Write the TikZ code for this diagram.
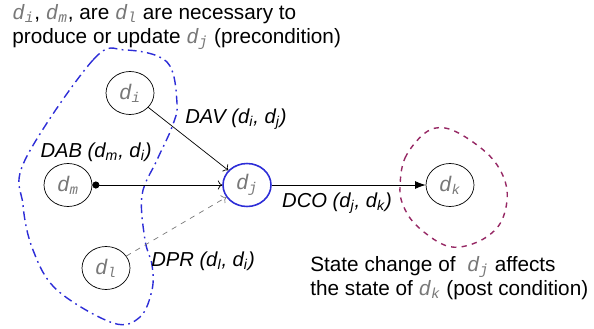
\documentclass[tikz,border=0pt]{standalone}
\usepackage{fontspec}
\setmainfont{Liberation Sans}
\newfontfamily\monofont{Liberation Mono}
\usetikzlibrary{arrows.meta,shapes.geometric}
\definecolor{dgray}{RGB}{120,120,120}
\definecolor{pblue}{RGB}{45,45,215}
\definecolor{plum}{RGB}{150,40,100}
\tikzstyle{vx}=[shape=ellipse, draw, minimum width=0.96cm, minimum height=0.86cm, inner sep=0, font=\fontsize{12}{14}\selectfont]
\tikzstyle{lbl}=[inner sep=0, font=\fontsize{11.5}{14}\selectfont\itshape]
\tikzstyle{txt}=[inner sep=0, anchor=west, align=left, font=\fontsize{11.8}{13.6}\selectfont]
\newcommand{\dv}[1]{{\color{dgray}\monofont\itshape d\textsubscript{#1}}}

\begin{document}
\begin{tikzpicture}[x=0.02cm, y=-0.02cm]
\useasboundingbox (0,0) rectangle (594,328);
% regions
\draw[pblue, line width=0.8pt, dash pattern=on 5pt off 2.5pt on 1pt off 2.5pt]
  plot[smooth cycle, tension=0.6] coordinates {(125,50) (93,60) (25,160) (23,205) (33,250) (57,290) (113,323) (140,317) (152,290) (152,265) (145,240) (142,195) (157,160) (172,127) (177,103) (167,62)};
\draw[plum, line width=0.8pt, dashed]
  plot[smooth cycle, tension=0.6] coordinates {(400,187) (405,158) (425,133) (445,128) (470,140) (495,162) (507,190) (502,220) (485,238) (460,247) (440,243) (415,224) (403,205)};
% data items
\node[vx] (Di) at (130,93) {\dv{i}};
\node[vx] (Dm) at (68,185) {\dv{m}};
\node[vx] (Dl) at (106,268) {\dv{l}};
\node[vx, draw=pblue, line width=0.9pt] (Dj) at (247,185) {\dv{j}};
\node[vx] (Dk) at (450,185) {\dv{k}};
% dependencies
\draw[->] (Di) -- (Dj);
\draw[{Circle[length=4pt]}->] (Dm) -- (Dj);
\draw[->, dashed, dgray] (Dl) -- (Dj);
\draw[-{Latex[length=6pt]}] (Dj) -- (Dk);
% labels
\node[lbl] (lDAV) at (236,119) {DAV (d\textsubscript{i}, d\textsubscript{j})};
\node[lbl] (lDAB) at (96,152) {DAB (d\textsubscript{m}, d\textsubscript{i})};
\node[lbl] (lDPR) at (203,261) {DPR (d\textsubscript{l}, d\textsubscript{i})};
\node[lbl] (lDCO) at (337,203) {DCO (d\textsubscript{j}, d\textsubscript{k})};
\node[txt] (pre) at (12,27) {\dv{i}, \dv{m}, are \dv{l} are necessary to\\produce or update \dv{j} (precondition)};
\node[txt] (post) at (310,278) {State change of \ \dv{j} affects\\the state of \dv{k} (post condition)};
\end{tikzpicture}
\end{document}
